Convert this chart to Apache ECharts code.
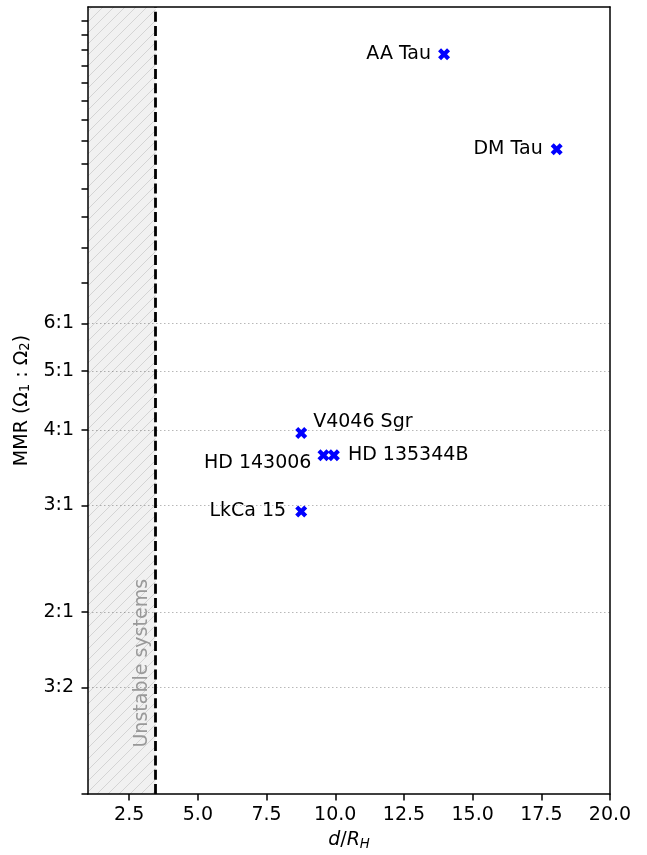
<!DOCTYPE html>
<html>
<head>
<meta charset="utf-8">
<script src="https://cdn.jsdelivr.net/npm/echarts@6/dist/echarts.min.js"></script>
<style>
html,body{margin:0;padding:0;background:#ffffff;}
#chart{width:647px;height:855px;}
</style>
</head>
<body>
<div id="chart"></div>
<script>
// ---------------- data ----------------
const systems = ['AA Tau', 'DM Tau', 'V4046 Sgr', 'HD 143006', 'HD 135344B', 'LkCa 15'];
const separation = [13.96, 18.06, 8.76, 9.57, 9.95, 8.76];   // d / R_H
const mmrRatio = [16.7, 11.64, 3.95, 3.63, 3.63, 2.93];       // Omega1 : Omega2
const xTickValues = [2.5, 5, 7.5, 10, 12.5, 15, 17.5, 20];
const yLabelValues = [1.5, 2, 3, 4, 5, 6];
const yLabelTexts = ['3:2', '2:1', '3:1', '4:1', '5:1', '6:1'];
const yTickValues = [1, 1.5, 2, 3, 4, 5, 6, 7, 8, 9, 10, 11, 12, 13, 14, 15, 16, 17, 18, 19];
const xRange = [1, 20];
const yRange = [1, 20];
const unstableLimit = 3.46;          // d / R_H boundary (2*sqrt(3))
const unstableText = 'Unstable systems';
const unstableTextAt = [2.97, 1.645];

// ---------------- style ----------------
const FONT = 'DejaVu Sans';
const FS = 19;
const labelPlacement = {
  'AA Tau':     {position: 'left',  distance: 7, offset: [0, 0]},
  'DM Tau':     {position: 'left',  distance: 8, offset: [0, 0]},
  'V4046 Sgr':  {position: 'right', distance: 6, offset: [0, -11]},
  'HD 143006':  {position: 'left',  distance: 6, offset: [0, 7.5]},
  'HD 135344B': {position: 'right', distance: 8, offset: [0, 0]},
  'LkCa 15':    {position: 'left',  distance: 9, offset: [0, -1]}
};

function hatchPattern() {
  const s = 11;
  const c = document.createElement('canvas');
  c.width = s; c.height = s;
  const g = c.getContext('2d');
  g.fillStyle = 'rgba(0,0,0,0.055)';
  g.fillRect(0, 0, s, s);
  g.strokeStyle = 'rgba(0,0,0,0.12)';
  g.lineWidth = 1;
  g.beginPath();
  g.moveTo(0, s); g.lineTo(s, 0);
  g.moveTo(-s, s); g.lineTo(s, -s);
  g.moveTo(0, 2 * s); g.lineTo(2 * s, 0);
  g.stroke();
  return c;
}

const points = systems.map((name, i) => {
  const p = labelPlacement[name];
  return {
    name: name,
    value: [separation[i], mmrRatio[i]],
    label: {show: true, formatter: name, position: p.position, distance: p.distance, offset: p.offset,
      color: '#000000', fontFamily: FONT, fontSize: FS}
  };
});

const xSymbol = 'path://M1,0L2,1L3,0L4,1L3,2L4,3L3,4L2,3L1,4L0,3L1,2L0,1Z';

const option = {
  backgroundColor: '#ffffff',
  animation: false,
  textStyle: {fontFamily: FONT},
  grid: {left: 88, right: 37, top: 7, bottom: 61, containLabel: false, outerBoundsMode: 'none'},
  xAxis: [{
    type: 'value', min: xRange[0], max: xRange[1],
    name: '{i|d}/{i|R}{sub|H}', nameLocation: 'middle', nameGap: 36,
    nameTextStyle: {
      fontFamily: FONT, fontSize: FS, color: '#000',
      rich: {
        i: {fontFamily: FONT, fontSize: FS, fontStyle: 'italic', color: '#000'},
        sub: {fontFamily: FONT, fontSize: FS * 0.7, fontStyle: 'italic', color: '#000', verticalAlign: 'bottom', padding: [8, 0, 0, 0]}
      }
    },
    axisLine: {show: true, onZero: false, lineStyle: {color: '#000', width: 1.5}},
    axisTick: {show: true, inside: false, length: 6.5, lineStyle: {color: '#000', width: 1.5}, customValues: xTickValues},
    axisLabel: {show: true, margin: 12, color: '#000', fontFamily: FONT, fontSize: FS, customValues: xTickValues,
      formatter: v => Number(v).toFixed(1)},
    splitLine: {show: false}, minorTick: {show: false}
  }, {
    type: 'value', position: 'top', min: xRange[0], max: xRange[1],
    axisLine: {show: true, onZero: false, lineStyle: {color: '#000', width: 1.5}},
    axisTick: {show: false}, axisLabel: {show: false}, splitLine: {show: false}
  }],
  yAxis: [{
    type: 'log', logBase: 1.1, min: yRange[0], max: yRange[1],
    name: 'MMR (Ω{sub|1} : Ω{sub|2})', nameLocation: 'middle', nameGap: 46, nameRotate: 90,
    nameTextStyle: {
      fontFamily: FONT, fontSize: FS, color: '#000',
      rich: {sub: {fontFamily: FONT, fontSize: FS * 0.7, color: '#000', verticalAlign: 'bottom', padding: [8, 0, 0, 0]}}
    },
    axisLine: {show: true, onZero: false, lineStyle: {color: '#000', width: 1.5}},
    axisTick: {show: true, inside: false, length: 6.5, lineStyle: {color: '#000', width: 1.5}, customValues: yTickValues},
    axisLabel: {show: true, margin: 14, color: '#000', fontFamily: FONT, fontSize: FS, customValues: yLabelValues,
      formatter: v => {
        let best = 0;
        yLabelValues.forEach((t, k) => { if (Math.abs(t - v) < Math.abs(yLabelValues[best] - v)) best = k; });
        return yLabelTexts[best];
      }},
    splitLine: {show: false}, minorTick: {show: false}, minorSplitLine: {show: false}
  }, {
    type: 'log', logBase: 1.1, position: 'right', min: yRange[0], max: yRange[1],
    axisLine: {show: true, onZero: false, lineStyle: {color: '#000', width: 1.5}},
    axisTick: {show: false, customValues: yLabelValues},
    axisLabel: {show: false},
    splitLine: {show: true, lineStyle: {color: '#b8b8b8', width: 1, type: [1.5, 2.5]}},
    minorTick: {show: false}, minorSplitLine: {show: false}
  }],
  series: [{
    type: 'scatter',
    xAxisIndex: 0, yAxisIndex: 0,
    symbol: xSymbol, symbolSize: 12,
    itemStyle: {color: '#0000ff', opacity: 1},
    label: {color: '#000', fontFamily: FONT, fontSize: FS},
    data: points,
    z: 5,
    markArea: {
      silent: true,
      itemStyle: {color: {image: hatchPattern(), repeat: 'repeat'}, borderWidth: 0, opacity: 1},
      label: {show: false},
      data: [[{xAxis: xRange[0]}, {xAxis: unstableLimit}]]
    },
    markLine: {
      silent: true, symbol: 'none',
      label: {show: false},
      lineStyle: {color: '#000', width: 2.8, type: [10, 4.3], opacity: 1},
      data: [{xAxis: unstableLimit}]
    },
    markPoint: {
      silent: true, symbol: 'circle', symbolSize: 0,
      label: {show: true, position: 'inside', rotate: 90, formatter: unstableText,
        color: '#999999', fontFamily: FONT, fontSize: FS},
      data: [{coord: unstableTextAt}]
    }
  }]
};

const chart = echarts.init(document.getElementById('chart'), null, {renderer: 'canvas'});
chart.setOption(option);
</script>
</body>
</html>
